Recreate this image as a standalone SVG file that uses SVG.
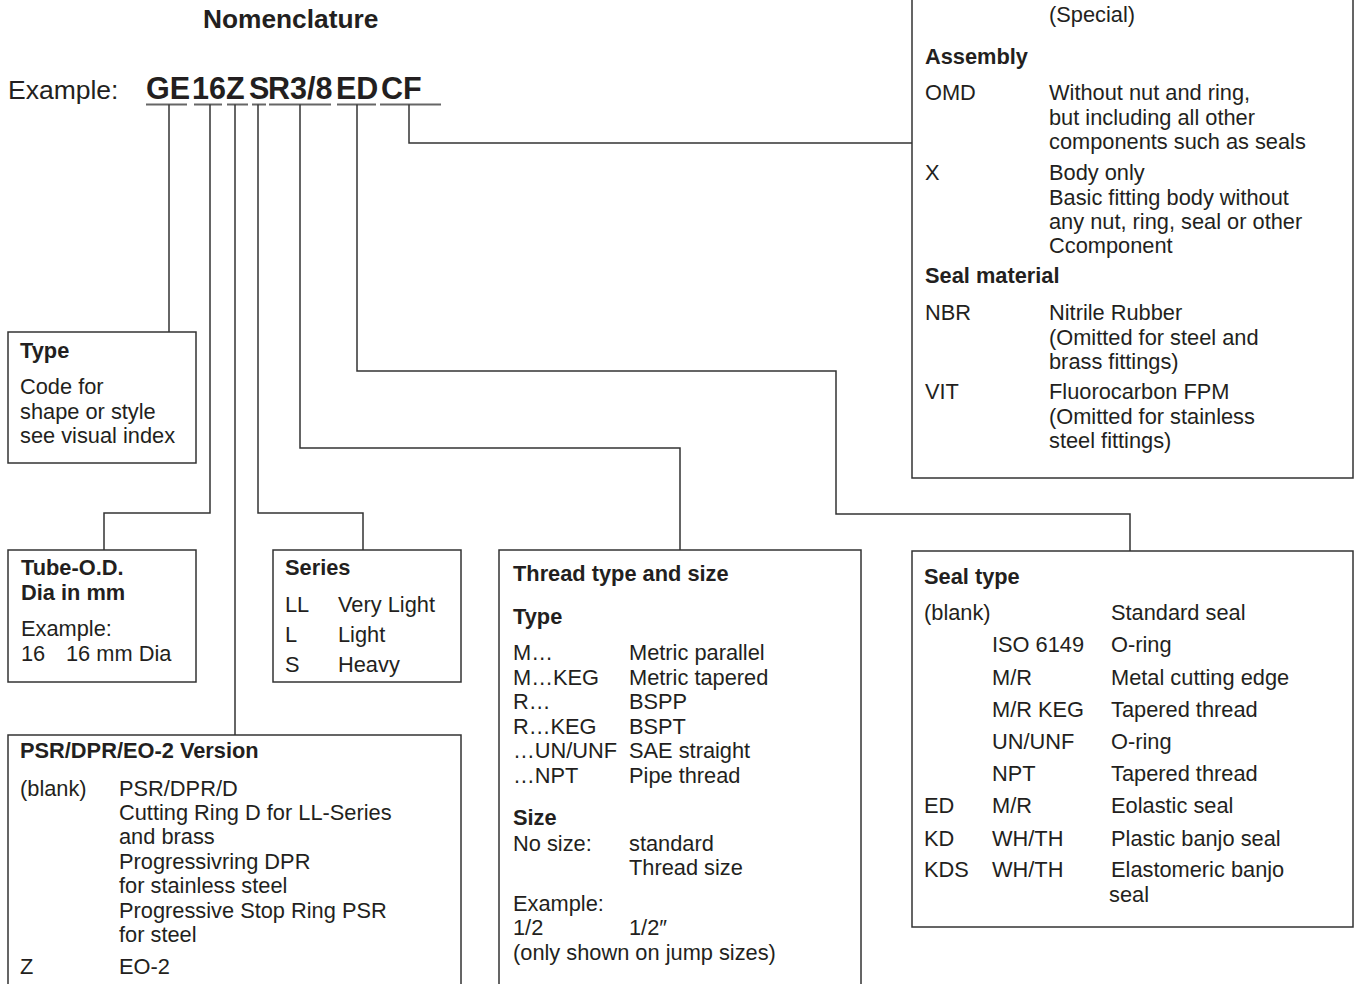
<svg xmlns="http://www.w3.org/2000/svg" width="1355" height="984" viewBox="0 0 1355 984">
<style>
text{font-family:"Liberation Sans",Arial,Helvetica,sans-serif;fill:#231f20}
.t{font-size:21.8px}
.b{font-size:21.8px;font-weight:bold}
.box{fill:#fff;stroke:#333;stroke-width:1.5}
.ln{fill:none;stroke:#333;stroke-width:1.5}
.ul{fill:none;stroke:#666;stroke-width:2}
</style>
<rect width="1355" height="984" fill="#fff"/>
<g id="title">
<text x="203" y="28" style="font-size:26.3px;font-weight:bold">Nomenclature</text>
<text x="8" y="99" style="font-size:26.5px">Example:</text>
<text y="99" style="font-size:30.5px;font-weight:bold"><tspan x="146">GE</tspan><tspan x="192">16</tspan><tspan x="226">Z</tspan><tspan x="249">S</tspan><tspan x="268">R3/8</tspan><tspan x="336">ED</tspan> <tspan x="381">CF</tspan></text>
</g>
<g id="connectors">
<path class="ul" d="M146 104.5H187M194 104.5H222M227 104.5H248M252 104.5H266M269 104.5H331M337 104.5H376M380 104.5H441"/>
<path class="ln" d="M169 104.5V332"/>
<path class="ln" d="M210 104.5V513H104V550"/>
<path class="ln" d="M235 104.5V735"/>
<path class="ln" d="M258 104.5V513H363V550"/>
<path class="ln" d="M300 104.5V448H680V550"/>
<path class="ln" d="M357 104.5V371H836V514H1130V551"/>
<path class="ln" d="M409 104.5V143H912"/>
</g>
<g id="assembly-seal-material">
<rect class="box" x="912" y="-10" width="441" height="488"/>
<text class="t" x="1049" y="22">(Special)</text>
<text class="b" x="925" y="64">Assembly</text>
<text class="t" x="925" y="100">OMD</text>
<text class="t" x="1049" y="100">Without nut and ring,</text>
<text class="t" x="1049" y="124.5">but including all other</text>
<text class="t" x="1049" y="149">components such as seals</text>
<text class="t" x="925" y="180">X</text>
<text class="t" x="1049" y="180">Body only</text>
<text class="t" x="1049" y="204.5">Basic fitting body without</text>
<text class="t" x="1049" y="229">any nut, ring, seal or other</text>
<text class="t" x="1049" y="253">Ccomponent</text>
<text class="b" x="925" y="283">Seal material</text>
<text class="t" x="925" y="320">NBR</text>
<text class="t" x="1049" y="320">Nitrile Rubber</text>
<text class="t" x="1049" y="344.5">(Omitted for steel and</text>
<text class="t" x="1049" y="369">brass fittings)</text>
<text class="t" x="925" y="399">VIT</text>
<text class="t" x="1049" y="399">Fluorocarbon FPM</text>
<text class="t" x="1049" y="423.5">(Omitted for stainless</text>
<text class="t" x="1049" y="448">steel fittings)</text>
</g>
<g id="type">
<rect class="box" x="8" y="332" width="188" height="131"/>
<text class="b" x="20" y="358">Type</text>
<text class="t" x="20" y="394">Code for</text>
<text class="t" x="20" y="418.5">shape or style</text>
<text class="t" x="20" y="443">see visual index</text>
</g>
<g id="tube-od">
<rect class="box" x="8" y="550" width="188" height="132"/>
<text class="b" x="21" y="575">Tube-O.D.</text>
<text class="b" x="21" y="600">Dia in mm</text>
<text class="t" x="21" y="636">Example:</text>
<text class="t" x="21" y="661">16</text>
<text class="t" x="66" y="661">16 mm Dia</text>
</g>
<g id="series">
<rect class="box" x="273" y="550" width="188" height="132"/>
<text class="b" x="285" y="575">Series</text>
<text class="t" x="285" y="612">LL</text>
<text class="t" x="338" y="612">Very Light</text>
<text class="t" x="285" y="642">L</text>
<text class="t" x="338" y="642">Light</text>
<text class="t" x="285" y="672">S</text>
<text class="t" x="338" y="672">Heavy</text>
</g>
<g id="version">
<rect class="box" x="8" y="735" width="453" height="265"/>
<text class="b" x="20" y="758">PSR/DPR/EO-2 Version</text>
<text class="t" x="20" y="796">(blank)</text>
<text class="t" x="119" y="796">PSR/DPR/D</text>
<text class="t" x="119" y="820">Cutting Ring D for LL-Series</text>
<text class="t" x="119" y="844">and brass</text>
<text class="t" x="119" y="869">Progressivring DPR</text>
<text class="t" x="119" y="893">for stainless steel</text>
<text class="t" x="119" y="918">Progressive Stop Ring PSR</text>
<text class="t" x="119" y="942">for steel</text>
<text class="t" x="20" y="974">Z</text>
<text class="t" x="119" y="974">EO-2</text>
</g>
<g id="thread">
<rect class="box" x="499" y="550" width="362" height="450"/>
<text class="b" x="513" y="581">Thread type and size</text>
<text class="b" x="513" y="624">Type</text>
<text class="t" x="513" y="660">M…</text>
<text class="t" x="629" y="660">Metric parallel</text>
<text class="t" x="513" y="684.5">M…KEG</text>
<text class="t" x="629" y="684.5">Metric tapered</text>
<text class="t" x="513" y="709">R…</text>
<text class="t" x="629" y="709">BSPP</text>
<text class="t" x="513" y="733.5">R…KEG</text>
<text class="t" x="629" y="733.5">BSPT</text>
<text class="t" x="513" y="758">…UN/UNF</text>
<text class="t" x="629" y="758">SAE straight</text>
<text class="t" x="513" y="782.5">…NPT</text>
<text class="t" x="629" y="782.5">Pipe thread</text>
<text class="b" x="513" y="825">Size</text>
<text class="t" x="513" y="851">No size:</text>
<text class="t" x="629" y="851">standard</text>
<text class="t" x="629" y="875">Thread size</text>
<text class="t" x="513" y="911">Example:</text>
<text class="t" x="513" y="935">1/2</text>
<text class="t" x="629" y="935">1/2″</text>
<text class="t" x="513" y="960">(only shown on jump sizes)</text>
</g>
<g id="seal-type">
<rect class="box" x="912" y="551" width="441" height="376"/>
<text class="b" x="924" y="584">Seal type</text>
<text class="t" x="924" y="620">(blank)</text>
<text class="t" x="1111" y="620">Standard seal</text>
<text class="t" x="992" y="652">ISO 6149</text>
<text class="t" x="1111" y="652">O-ring</text>
<text class="t" x="992" y="685">M/R</text>
<text class="t" x="1111" y="685">Metal cutting edge</text>
<text class="t" x="992" y="717">M/R KEG</text>
<text class="t" x="1111" y="717">Tapered thread</text>
<text class="t" x="992" y="749">UN/UNF</text>
<text class="t" x="1111" y="749">O-ring</text>
<text class="t" x="992" y="781">NPT</text>
<text class="t" x="1111" y="781">Tapered thread</text>
<text class="t" x="924" y="813">ED</text>
<text class="t" x="992" y="813">M/R</text>
<text class="t" x="1111" y="813">Eolastic seal</text>
<text class="t" x="924" y="846">KD</text>
<text class="t" x="992" y="846">WH/TH</text>
<text class="t" x="1111" y="846">Plastic banjo seal</text>
<text class="t" x="924" y="877">KDS</text>
<text class="t" x="992" y="877">WH/TH</text>
<text class="t" x="1111" y="877">Elastomeric banjo</text>
<text class="t" x="1109" y="902">seal</text>
</g>
</svg>
